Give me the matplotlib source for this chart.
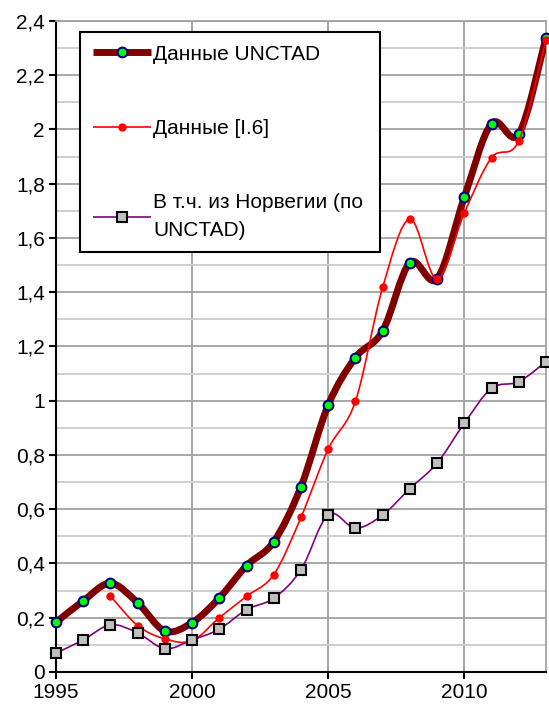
import numpy as np
import matplotlib
matplotlib.use("Agg")
import matplotlib.pyplot as plt
from matplotlib.path import Path
from matplotlib.patches import PathPatch
from matplotlib.lines import Line2D
from matplotlib.ticker import MultipleLocator, FuncFormatter

plt.rcParams['font.family'] = ['Liberation Sans', 'DejaVu Sans']

# Data
years = list(range(1995, 2014))
unctad = [0.183, 0.262, 0.327, 0.255, 0.151, 0.182, 0.273, 0.392, 0.480, 0.683,
          0.984, 1.159, 1.257, 1.509, 1.450, 1.750, 2.022, 1.983, 2.339]

years_l6 = list(range(1997, 2014))
l6 = [0.280, 0.171, 0.122, 0.115, 0.200, 0.279, 0.359, 0.570,
      0.822, 0.998, 1.418, 1.670, 1.449, 1.692, 1.896, 1.958, 2.329]

norway = [0.070, 0.118, 0.174, 0.144, 0.086, 0.118, 0.158, 0.230, 0.272, 0.377,
          0.580, 0.530, 0.579, 0.676, 0.770, 0.917, 1.046, 1.070, 1.144]

labels = ['Данные UNCTAD', 'Данные [I.6]', 'В т.ч. из Норвегии (по\nUNCTAD)']


# Smoothed line like the spreadsheet one: Catmull-Rom pieces as cubic Bezier curves
def smooth_path(x, y):
    pts = np.column_stack([np.asarray(x, float), np.asarray(y, float)])
    n = len(pts)
    verts = [pts[0]]
    codes = [Path.MOVETO]
    for i in range(n - 1):
        p0 = pts[max(i - 1, 0)]
        p1 = pts[i]
        p2 = pts[i + 1]
        p3 = pts[min(i + 2, n - 1)]
        verts += [p1 + (p2 - p0) / 6, p2 - (p3 - p1) / 6, p2]
        codes += [Path.CURVE4] * 3
    return Path(verts, codes)


fig = plt.figure(figsize=(5.49, 7.09), dpi=100)
ax = fig.add_axes([0.102, 0.0522, 0.8925, 0.9182])

styles = [
    dict(color='#800000', lw=5.0, marker='o', ms=7, mfc='#00ff00', mec='#000080', mew=1.5),
    dict(color='#ff0000', lw=1.2, marker='o', ms=5, mfc='#ff0000', mec='#ff0000', mew=1.0),
    dict(color='#800080', lw=1.2, marker='s', ms=7, mfc='#c0c0c0', mec='#000000', mew=1.5),
]
series = [(years, unctad), (years_l6, l6), (years, norway)]

handles = []
for k, ((xs, ys), st) in enumerate(zip(series, styles)):
    z = 3 + 2 * k
    ax.add_patch(PathPatch(smooth_path(xs, ys), fill=False, edgecolor=st['color'],
                           lw=st['lw'], capstyle='round', joinstyle='round', zorder=z))
    ax.plot(xs, ys, ls='none', marker=st['marker'], ms=st['ms'], mfc=st['mfc'],
            mec=st['mec'], mew=st['mew'], zorder=z + 1, clip_on=False)
    handles.append(Line2D([], [], color=st['color'], lw=st['lw'], marker=st['marker'],
                          ms=st['ms'], mfc=st['mfc'], mec=st['mec'], mew=st['mew'],
                          solid_capstyle='butt'))

ax.set_xlim(1995, 2013)
ax.set_ylim(0, 2.4)
ax.xaxis.set_major_locator(MultipleLocator(5))
ax.yaxis.set_major_locator(MultipleLocator(0.2))
ax.yaxis.set_minor_locator(MultipleLocator(0.1))
ax.yaxis.set_major_formatter(FuncFormatter(lambda v, p: f'{round(v, 1):g}'.replace('.', ',')))

ax.grid(which='major', color='#a0a0a0', lw=1.3, zorder=0)
ax.grid(which='minor', axis='y', color='#cccccc', lw=1.3, zorder=0)
ax.set_axisbelow(True)

for side in ['left', 'bottom']:
    ax.spines[side].set_color('black')
    ax.spines[side].set_linewidth(1.5)
for side in ['top', 'right']:
    ax.spines[side].set_color('#a0a0a0')
    ax.spines[side].set_linewidth(1.3)

ax.tick_params(which='major', direction='out', length=5, width=1.5, labelsize=15, pad=3)
ax.tick_params(which='minor', length=0)

leg = ax.legend(handles, labels, loc='upper left', mode='expand',
                bbox_to_anchor=(0.049, 0.636, 0.612, 0.347),
                fontsize=15, labelspacing=2.66, handlelength=2.8, handletextpad=0.1,
                borderpad=0.6, borderaxespad=0, fancybox=False, framealpha=1,
                edgecolor='black')
leg.get_frame().set_linewidth(1.5)
for t in leg.get_texts():
    t.set_linespacing(1.55)
leg.set_zorder(20)

fig.savefig('out.png', dpi=100)
